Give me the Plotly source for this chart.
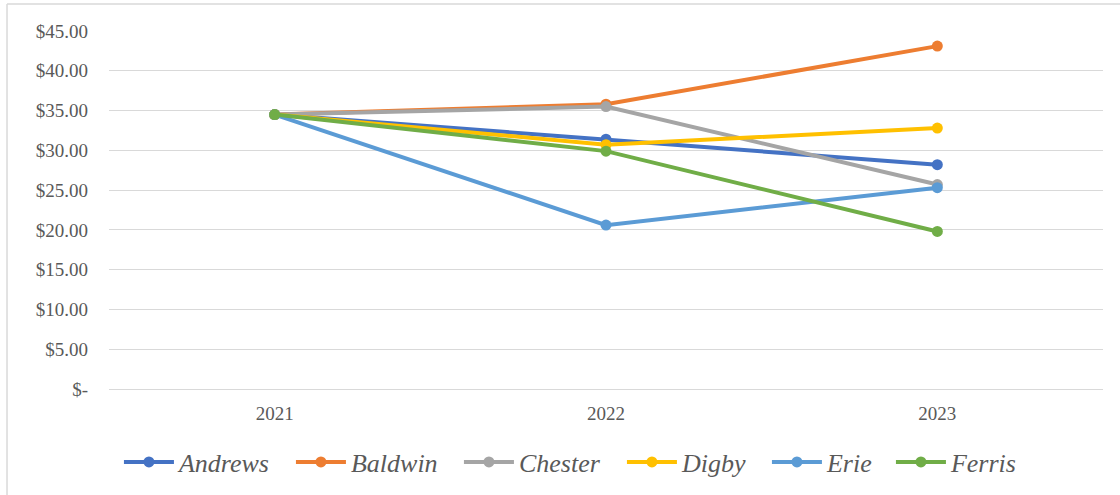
import plotly.graph_objects as go

# Share price by company, 2021-2023
years = ["2021", "2022", "2023"]
andrews = [34.50, 31.40, 28.20]
baldwin = [34.50, 35.80, 43.10]
chester = [34.50, 35.50, 25.70]
digby = [34.50, 30.70, 32.80]
erie = [34.50, 20.60, 25.30]
ferris = [34.50, 29.90, 19.80]

y_ticks = [0, 5, 10, 15, 20, 25, 30, 35, 40, 45]
y_tick_text = ["$-", "$5.00", "$10.00", "$15.00", "$20.00", "$25.00",
               "$30.00", "$35.00", "$40.00", "$45.00"]

series = [
    ("Andrews", andrews, "#4472C4"),
    ("Baldwin", baldwin, "#ED7D31"),
    ("Chester", chester, "#A5A5A5"),
    ("Digby", digby, "#FFC000"),
    ("Erie", erie, "#5B9BD5"),
    ("Ferris", ferris, "#70AD47"),
]

# width reserved for each legend entry's label (px)
legend_widths = {"Andrews": 107, "Baldwin": 103, "Chester": 98,
                 "Digby": 80, "Erie": 59, "Ferris": 70}

fig = go.Figure()
for name, vals, color in series:
    fig.add_trace(go.Scatter(
        x=years, y=vals, name=name, mode="lines+markers",
        line=dict(color=color, width=4),
        marker=dict(color=color, size=11),
        legendwidth=legend_widths[name],
    ))

serif = '"Liberation Serif", "Times New Roman", serif'

fig.update_layout(
    width=1120, height=495,
    margin=dict(l=109, r=17, t=31, b=106, autoexpand=False),
    paper_bgcolor="white", plot_bgcolor="white",
    font=dict(family=serif, color="#595959", size=19),
    showlegend=True,
    legend=dict(
        orientation="h", x=0.010, xanchor="left", y=-0.204, yanchor="middle",
        font=dict(family=serif, size=26, color="#595959", style="italic"),
        itemwidth=50, traceorder="normal",
    ),
    xaxis=dict(
        type="category", range=[-0.5, 2.5], showgrid=False, zeroline=False,
        showline=False, ticks="", ticklabelstandoff=11,
        tickfont=dict(family=serif, size=19, color="#595959"),
    ),
    yaxis=dict(
        range=[0, 45], tickvals=y_ticks, ticktext=y_tick_text,
        showgrid=True, gridcolor="#d9d9d9", gridwidth=1,
        zeroline=True, zerolinecolor="#d9d9d9", zerolinewidth=1,
        showline=False, ticks="", ticklabelstandoff=20,
        tickfont=dict(family=serif, size=19, color="#595959"),
    ),
    shapes=[
        # chart frame (left and top edges)
        dict(type="line", xref="paper", yref="paper",
             x0=-0.1026, x1=-0.1026, y0=-0.5, y1=1.0756,
             line=dict(color="#d9d9d9", width=1.5)),
        dict(type="line", xref="paper", yref="paper",
             x0=-0.1026, x1=1.2, y0=1.0756, y1=1.0756,
             line=dict(color="#d9d9d9", width=1.5)),
    ],
)

fig.write_html("out.html")
